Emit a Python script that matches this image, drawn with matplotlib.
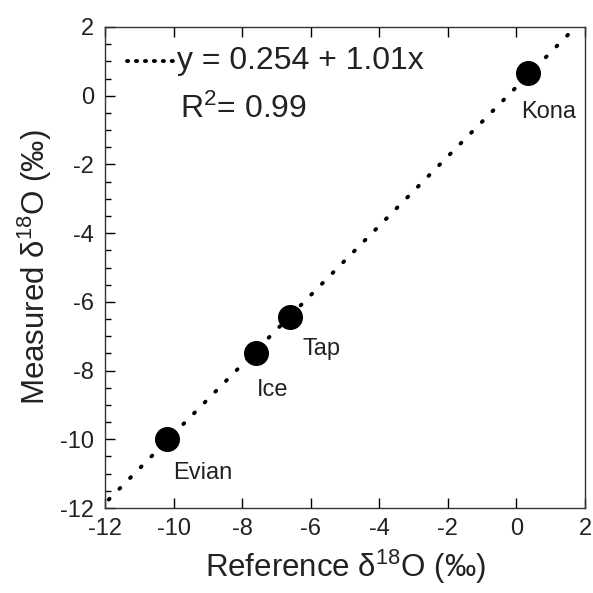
import matplotlib.pyplot as plt
from matplotlib.ticker import MultipleLocator

plt.rcParams['font.family'] = ['Liberation Sans', 'DejaVu Sans']
plt.rcParams['mathtext.fontset'] = 'custom'
plt.rcParams['mathtext.rm'] = 'Liberation Sans'
plt.rcParams['mathtext.it'] = 'Liberation Sans'
plt.rcParams['axes.unicode_minus'] = False

# water standards: reference vs measured d18O (permil)
names = ['Evian', 'Ice', 'Tap', 'Kona']
reference = [-10.2, -7.6, -6.6, 0.35]
measured = [-10.0, -7.5, -6.45, 0.65]
label_offsets = [(5, -24), (0.5, -26), (9, -23), (-5, -28)]

intercept = 0.254
slope = 1.01
fit_x = [-12.2, (2.0 - intercept) / slope]

fig = plt.figure(figsize=(5.93, 5.93), dpi=100)
ax = fig.add_axes([0.177, 0.1433, 0.8095, 0.8112])

fit_y = [intercept + slope * x for x in fit_x]
ax.plot(fit_x, fit_y, color='black', lw=2.8, dashes=(0.3, 3.6),
        dash_capstyle='round', zorder=2)
ax.plot(reference, measured, 'o', color='black', ms=17, zorder=3)

for name, x, y, off in zip(names, reference, measured, label_offsets):
    ax.annotate(name, (x, y), xytext=off, textcoords='offset points',
                ha='left', va='center', fontsize=17, color='#222222')

# legend-like equation
ax.plot([-11.35, -9.95], [1.0, 1.0], color='black', lw=2.8, dashes=(0.3, 2.0),
        dash_capstyle='round', clip_on=False)
ax.text(-9.9, 1.0, 'y = 0.254 + 1.01x', fontsize=23, ha='left', va='center',
        color='#222222')
ax.text(-9.8, -0.4, 'R$^2$= 0.99', fontsize=23, ha='left', va='center',
        color='#222222')

ax.set_xlim(-12, 2)
ax.set_ylim(-12, 2)
ax.xaxis.set_major_locator(MultipleLocator(2))
ax.yaxis.set_major_locator(MultipleLocator(2))
ax.yaxis.set_minor_locator(MultipleLocator(0.5))
ax.tick_params(axis='x', which='major', direction='in', length=7, width=1,
               top=True, bottom=True, labelsize=17, pad=7, labelcolor='#222222')
ax.tick_params(axis='y', which='major', direction='in', length=7, width=1,
               left=True, right=False, labelsize=17, pad=8, labelcolor='#222222')
ax.tick_params(axis='y', which='minor', direction='in', length=4, width=1,
               left=True, right=False)
for s in ax.spines.values():
    s.set_linewidth(1.0)
    s.set_color('#333333')

ax.set_xlabel('Reference δ$^{18}$O (‰)', fontsize=22.5, labelpad=6,
              color='#222222')
ax.set_ylabel('Measured δ$^{18}$O (‰)', fontsize=22.5, labelpad=4,
              color='#222222')

fig.savefig('out.png', dpi=100)
